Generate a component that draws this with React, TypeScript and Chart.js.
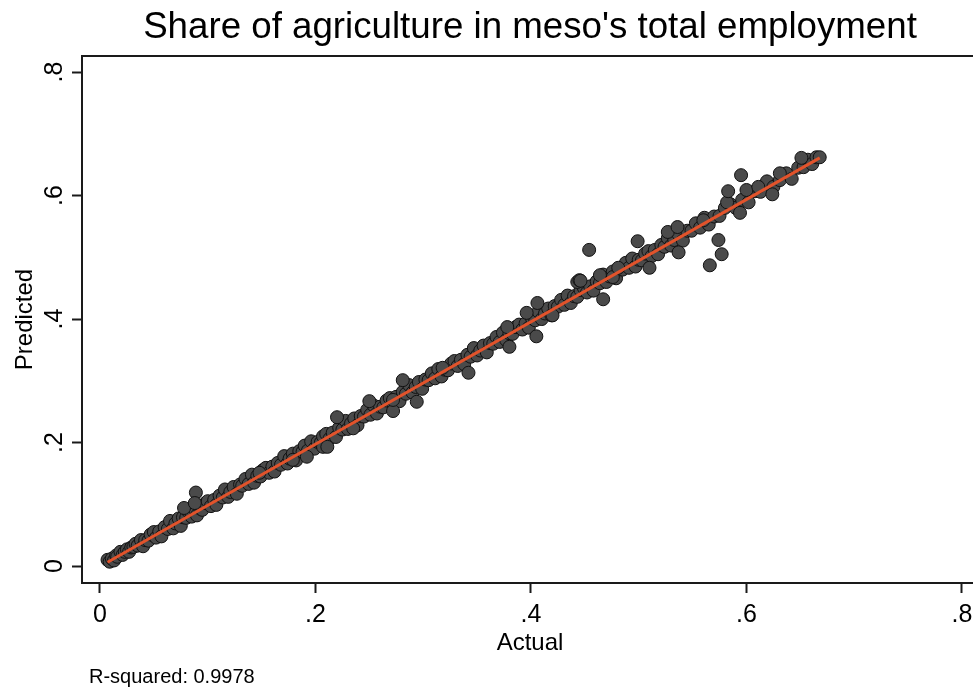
import React, { useEffect, useRef } from 'react';
import { Chart, registerables } from 'chart.js';

Chart.register(...registerables);

const chartTitle = "Share of agriculture in meso's total employment";
const xAxisTitle = 'Actual';
const yAxisTitle = 'Predicted';
const noteText = 'R-squared: 0.9978';

const xTickValues = [0, 0.2, 0.4, 0.6, 0.8];
const yTickValues = [0, 0.2, 0.4, 0.6, 0.8];
const xTickLabels = ['0', '.2', '.4', '.6', '.8'];
const yTickLabels = ['0', '.2', '.4', '.6', '.8'];

// Dense band of observations along the diagonal
const bandActual = [
  0.007, 0.009, 0.011, 0.013, 0.015, 0.016, 0.019, 0.021, 0.023, 0.025, 0.027, 0.029, 0.031, 0.033, 0.035, 0.038,
  0.040, 0.042, 0.045, 0.047, 0.050, 0.052, 0.055, 0.057, 0.060, 0.063, 0.065, 0.068, 0.070, 0.073, 0.075, 0.077,
  0.080, 0.082, 0.085, 0.087, 0.090, 0.093, 0.095, 0.098, 0.100, 0.103, 0.106, 0.108, 0.111, 0.114, 0.116, 0.119,
  0.121, 0.124, 0.127, 0.130, 0.132, 0.135, 0.138, 0.141, 0.143, 0.146, 0.149, 0.151, 0.154, 0.157, 0.160, 0.162,
  0.165, 0.168, 0.171, 0.174, 0.176, 0.179, 0.182, 0.185, 0.188, 0.190, 0.193, 0.196, 0.199, 0.202, 0.205, 0.207,
  0.210, 0.213, 0.216, 0.219, 0.222, 0.225, 0.228, 0.230, 0.233, 0.236, 0.239, 0.242, 0.245, 0.248, 0.251, 0.254,
  0.257, 0.260, 0.263, 0.266, 0.269, 0.272, 0.275, 0.278, 0.281, 0.284, 0.287, 0.290, 0.293, 0.296, 0.299, 0.302,
  0.305, 0.308, 0.311, 0.314, 0.317, 0.320, 0.323, 0.326, 0.329, 0.332, 0.335, 0.338, 0.341, 0.344, 0.347, 0.350,
  0.353, 0.356, 0.359, 0.362, 0.365, 0.368, 0.371, 0.374, 0.377, 0.380, 0.383, 0.386, 0.389, 0.392, 0.395, 0.398,
  0.401, 0.404, 0.407, 0.410, 0.413, 0.416, 0.419, 0.422, 0.425, 0.428, 0.431, 0.434, 0.437, 0.440, 0.443, 0.446,
  0.449, 0.452, 0.455, 0.458, 0.461, 0.464, 0.467, 0.470, 0.473, 0.476, 0.479, 0.482, 0.485, 0.488, 0.491, 0.494,
  0.497, 0.500, 0.503, 0.506, 0.509, 0.512, 0.515, 0.518, 0.521, 0.524, 0.527, 0.530, 0.533, 0.537, 0.541, 0.545,
  0.549, 0.553, 0.557, 0.561, 0.565, 0.570, 0.575, 0.580, 0.585, 0.590, 0.596, 0.602, 0.608, 0.613, 0.619, 0.625,
  0.631, 0.637, 0.642, 0.648, 0.653, 0.657, 0.661, 0.665, 0.668,
];
const bandPredicted = [
  0.010, 0.007, 0.012, 0.009, 0.017, 0.015, 0.023, 0.018, 0.023, 0.027, 0.023, 0.030, 0.031, 0.036, 0.033, 0.042,
  0.032, 0.042, 0.041, 0.051, 0.055, 0.046, 0.056, 0.048, 0.063, 0.060, 0.073, 0.061, 0.069, 0.077, 0.065, 0.079,
  0.078, 0.088, 0.080, 0.094, 0.082, 0.093, 0.091, 0.102, 0.105, 0.097, 0.107, 0.099, 0.114, 0.111, 0.124, 0.112,
  0.120, 0.128, 0.117, 0.132, 0.130, 0.141, 0.133, 0.148, 0.135, 0.146, 0.145, 0.155, 0.159, 0.151, 0.161, 0.153,
  0.167, 0.164, 0.178, 0.166, 0.174, 0.182, 0.171, 0.186, 0.185, 0.195, 0.187, 0.202, 0.190, 0.201, 0.200, 0.210,
  0.214, 0.206, 0.216, 0.209, 0.224, 0.221, 0.235, 0.222, 0.231, 0.239, 0.228, 0.243, 0.242, 0.253, 0.245, 0.260,
  0.247, 0.258, 0.257, 0.268, 0.272, 0.264, 0.274, 0.267, 0.282, 0.279, 0.293, 0.281, 0.290, 0.298, 0.287, 0.302,
  0.301, 0.312, 0.304, 0.319, 0.307, 0.318, 0.317, 0.328, 0.332, 0.324, 0.334, 0.327, 0.342, 0.339, 0.353, 0.341,
  0.349, 0.357, 0.346, 0.361, 0.360, 0.371, 0.363, 0.378, 0.366, 0.377, 0.376, 0.387, 0.391, 0.383, 0.393, 0.386,
  0.401, 0.398, 0.412, 0.400, 0.409, 0.417, 0.406, 0.421, 0.420, 0.431, 0.423, 0.438, 0.426, 0.437, 0.436, 0.447,
  0.451, 0.443, 0.453, 0.446, 0.461, 0.458, 0.472, 0.460, 0.469, 0.477, 0.466, 0.481, 0.480, 0.491, 0.483, 0.498,
  0.485, 0.496, 0.495, 0.506, 0.510, 0.502, 0.512, 0.505, 0.520, 0.517, 0.531, 0.519, 0.528, 0.537, 0.527, 0.543,
  0.543, 0.555, 0.548, 0.564, 0.553, 0.566, 0.567, 0.580, 0.586, 0.580, 0.593, 0.589, 0.607, 0.606, 0.623, 0.614,
  0.625, 0.636, 0.627, 0.645, 0.646, 0.658, 0.651, 0.662, 0.662,
];

// Observations standing off the band
const offActual = [
  0.089, 0.078, 0.088, 0.148, 0.179, 0.192, 0.207, 0.211, 0.220, 0.235, 0.250, 0.272, 0.272, 0.281, 0.294, 0.318,
  0.342, 0.378, 0.380, 0.396, 0.405, 0.406, 0.420, 0.443, 0.445, 0.446, 0.454, 0.464, 0.467, 0.476, 0.481, 0.499,
  0.510, 0.527, 0.536, 0.537, 0.560, 0.566, 0.574, 0.577, 0.582, 0.583, 0.594, 0.595, 0.600, 0.611, 0.624, 0.631,
  0.651,
];
const offPredicted = [
  0.119, 0.094, 0.102, 0.151, 0.172, 0.177, 0.193, 0.193, 0.241, 0.223, 0.267, 0.251, 0.269, 0.301, 0.266, 0.321,
  0.313, 0.387, 0.355, 0.410, 0.372, 0.426, 0.406, 0.460, 0.463, 0.462, 0.512, 0.471, 0.432, 0.468, 0.483, 0.526,
  0.483, 0.541, 0.549, 0.508, 0.560, 0.487, 0.528, 0.505, 0.589, 0.607, 0.572, 0.633, 0.609, 0.614, 0.602, 0.636,
  0.661,
];

// Fitted line end points
const fitActual = [0.007, 0.668];
const fitPredicted = [0.006, 0.661];

const FONT = '"Liberation Sans", Arial, Helvetica, sans-serif';

const textPlugin = {
  id: 'stataText',
  beforeDatasetsDraw(chart: any) {
    const { ctx, chartArea: ca } = chart;
    ctx.save();
    ctx.strokeStyle = '#1a1a1a';
    ctx.lineWidth = 2;
    ctx.beginPath();
    ctx.moveTo(ca.right + 20, ca.top);
    ctx.lineTo(ca.left, ca.top);
    ctx.lineTo(ca.left, ca.bottom);
    ctx.lineTo(ca.right + 20, ca.bottom);
    ctx.stroke();
    ctx.restore();
  },
  afterDraw(chart: any) {
    const { ctx, chartArea: ca, scales } = chart;
    const cx = (ca.left + ca.right) / 2;
    const cy = (ca.top + ca.bottom) / 2;
    ctx.save();
    ctx.fillStyle = '#000';
    ctx.textAlign = 'center';
    ctx.textBaseline = 'alphabetic';

    // title
    ctx.font = `36.7px ${FONT}`;
    ctx.fillText(chartTitle, cx, 38);

    // x tick labels
    ctx.font = `25px ${FONT}`;
    xTickValues.forEach((v, i) => {
      ctx.fillText(xTickLabels[i], scales.x.getPixelForValue(v), 622);
    });
    // y tick labels (rotated)
    yTickValues.forEach((v, i) => {
      ctx.save();
      ctx.translate(62, scales.y.getPixelForValue(v));
      ctx.rotate(-Math.PI / 2);
      ctx.fillText(yTickLabels[i], 0, 0);
      ctx.restore();
    });

    // axis titles
    ctx.font = `24px ${FONT}`;
    ctx.fillText(xAxisTitle, cx, 650);
    ctx.save();
    ctx.translate(32, cy);
    ctx.rotate(-Math.PI / 2);
    ctx.fillText(yAxisTitle, 0, 0);
    ctx.restore();

    // note
    ctx.font = `20px ${FONT}`;
    ctx.textAlign = 'left';
    ctx.fillText(noteText, 89, 683);
    ctx.restore();
  },
};

export default function App() {
  const canvasRef = useRef<HTMLCanvasElement | null>(null);

  useEffect(() => {
    if (!canvasRef.current) return;
    const bandPoints = bandActual.map((x, i) => ({ x, y: bandPredicted[i] }));
    const offPoints = offActual.map((x, i) => ({ x, y: offPredicted[i] }));
    const fitPoints = fitActual.map((x, i) => ({ x, y: fitPredicted[i] }));

    const axisCommon = {
      type: 'linear' as const,
      ticks: { display: false },
      border: { display: false },
      grid: {
        display: true,
        drawOnChartArea: false,
        drawTicks: true,
        tickLength: 10,
        tickWidth: 2,
        tickColor: '#1a1a1a',
      },
    };

    const chart = new Chart(canvasRef.current, {
      type: 'scatter',
      data: {
        datasets: [
          {
            label: 'Fit',
            data: fitPoints,
            showLine: true,
            borderColor: '#e2532b',
            borderWidth: 3,
            pointRadius: 0,
            fill: false,
          } as any,
          {
            label: 'Off',
            data: offPoints,
            pointRadius: 6.5,
            pointBackgroundColor: '#4a4a4a',
            pointBorderColor: '#111111',
            pointBorderWidth: 1,
          },
          {
            label: 'Band',
            data: bandPoints,
            pointRadius: 6.5,
            pointBackgroundColor: '#4a4a4a',
            pointBorderColor: '#111111',
            pointBorderWidth: 1,
          },
        ],
      },
      options: {
        responsive: false,
        animation: false,
        devicePixelRatio: 1,
        events: [],
        layout: { padding: { left: 0, top: 56, right: 82, bottom: 0 } },
        plugins: {
          legend: { display: false },
          title: { display: false },
          tooltip: { enabled: false },
        },
        scales: {
          x: {
            ...axisCommon,
            position: 'bottom',
            min: -0.0167,
            max: 0.8149,
            afterBuildTicks: (s: any) => {
              s.ticks = xTickValues.map((v) => ({ value: v }));
            },
            afterFit: (s: any) => {
              s.height = 105;
            },
          },
          y: {
            ...axisCommon,
            position: 'left',
            min: -0.0275,
            max: 0.826,
            afterBuildTicks: (s: any) => {
              s.ticks = yTickValues.map((v) => ({ value: v }));
            },
            afterFit: (s: any) => {
              s.width = 82;
            },
          },
        },
      } as any,
      plugins: [textPlugin],
    });
    return () => chart.destroy();
  }, []);

  return (
    <div
      style={{
        position: 'fixed',
        left: 0,
        top: 0,
        width: 973,
        height: 688,
        overflow: 'hidden',
        background: '#fff',
      }}
    >
      <canvas ref={canvasRef} width={1060} height={688} style={{ display: 'block', width: 1060, height: 688 }} />
    </div>
  );
}
